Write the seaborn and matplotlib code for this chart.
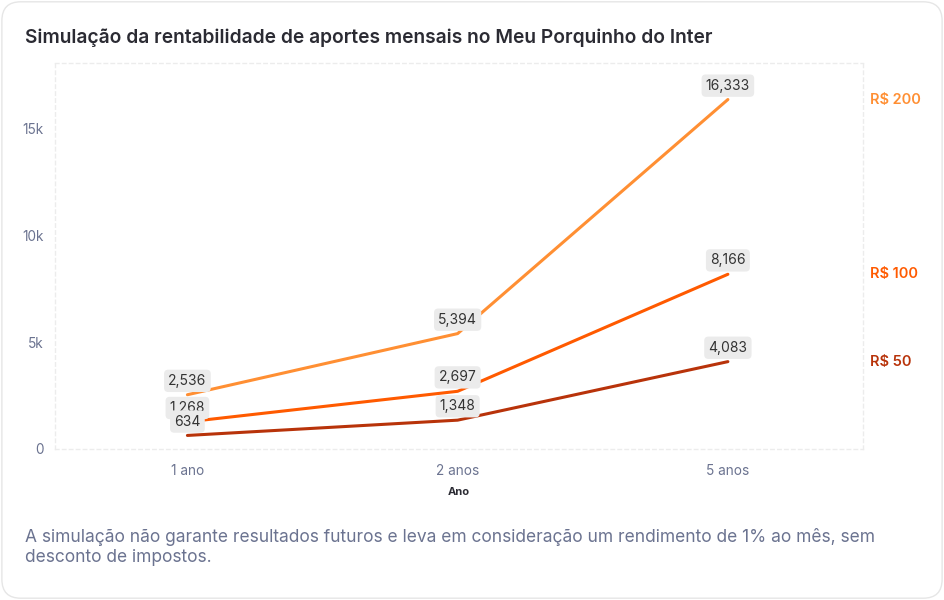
import matplotlib
matplotlib.use("Agg")
import matplotlib.pyplot as plt
from matplotlib.patches import FancyBboxPatch
import seaborn as sns
import pandas as pd

# data
anos = ['1 ano', '2 anos', '5 anos']
aporte_200 = [2536, 5394, 16333]
aporte_100 = [1268, 2697, 8166]
aporte_50 = [634, 1348, 4083]
series = ['R$ 200', 'R$ 100', 'R$ 50']
cores = ['#FF8F33', '#FF5A00', '#B8330A']

df = pd.DataFrame({
    'ano': anos * 3,
    'valor': aporte_200 + aporte_100 + aporte_50,
    'serie': [series[0]] * 3 + [series[1]] * 3 + [series[2]] * 3,
})

sns.set_style('white')
plt.rcParams['font.family'] = ['Inter', 'DejaVu Sans']

fig = plt.figure(figsize=(9.44, 6), dpi=100)
# card background
card = FancyBboxPatch((0.002, 0.003), 0.996, 0.994, boxstyle='round,pad=0,rounding_size=0.02',
                      mutation_aspect=944 / 600, transform=fig.transFigure,
                      facecolor='white', edgecolor='#e6e6e6', linewidth=1, zorder=-10)
fig.patches.append(card)

ax = fig.add_axes([55 / 944, 1 - 449 / 600, (863 - 55) / 944, (449 - 63) / 600])
ax.set_facecolor('none')

sns.lineplot(data=df, x='ano', y='valor', hue='serie', palette=dict(zip(series, cores)),
             linewidth=2.2, legend=False, ax=ax, sort=False)

ax.set_xlim(-0.49, 2.5)
ax.set_ylim(0, 18040)
ax.set_yticks([0, 5000, 10000, 15000])
ax.set_yticklabels(['0', '5k', '10k', '15k'])

for s in ax.spines.values():
    s.set_visible(True)
    s.set_color('#ececec')
    s.set_linestyle((0, (2.5, 2.5)))
    s.set_linewidth(1)

ax.tick_params(axis='y', length=0, pad=8, labelsize=9.8, labelcolor='#6b7390')
ax.tick_params(axis='x', length=4, color='#e6e6e6', pad=7, labelsize=9.8, labelcolor='#6b7390')
ax.set_xlabel('Ano', fontsize=8, fontweight='bold', color='#2b2b33', labelpad=6)
ax.set_ylabel('')

# value labels
for vals in [aporte_200, aporte_100, aporte_50]:
    for i, v in enumerate(vals):
        ax.annotate(f'{v:,}', (i, v), xytext=(0, 10), textcoords='offset points',
                    ha='center', va='center', fontsize=10, color='#333333',
                    bbox=dict(boxstyle='round,pad=0.3,rounding_size=0.3', fc='#ebebeb', ec='none'))

# series names on the right
for nome, vals, cor in zip(series, [aporte_200, aporte_100, aporte_50], cores):
    ax.annotate(nome, (1.0, vals[-1]), xycoords=('axes fraction', 'data'),
                xytext=(5, 0), textcoords='offset points', ha='left', va='center',
                fontsize=10.5, fontweight='semibold', color=cor, annotation_clip=False)

fig.text(25 / 944, 1 - 38 / 600, 'Simulação da rentabilidade de aportes mensais no Meu Porquinho do Inter',
         fontsize=13.8, fontweight='semibold', color='#2b2b33', va='center', ha='left')
fig.text(25 / 944, 1 - 547 / 600,
         'A simulação não garante resultados futuros e leva em consideração um rendimento de 1% ao mês, sem\ndesconto de impostos.',
         fontsize=12.5, color='#6b7390', va='center', ha='left', linespacing=1.25)

fig.savefig('out.png', dpi=100)
